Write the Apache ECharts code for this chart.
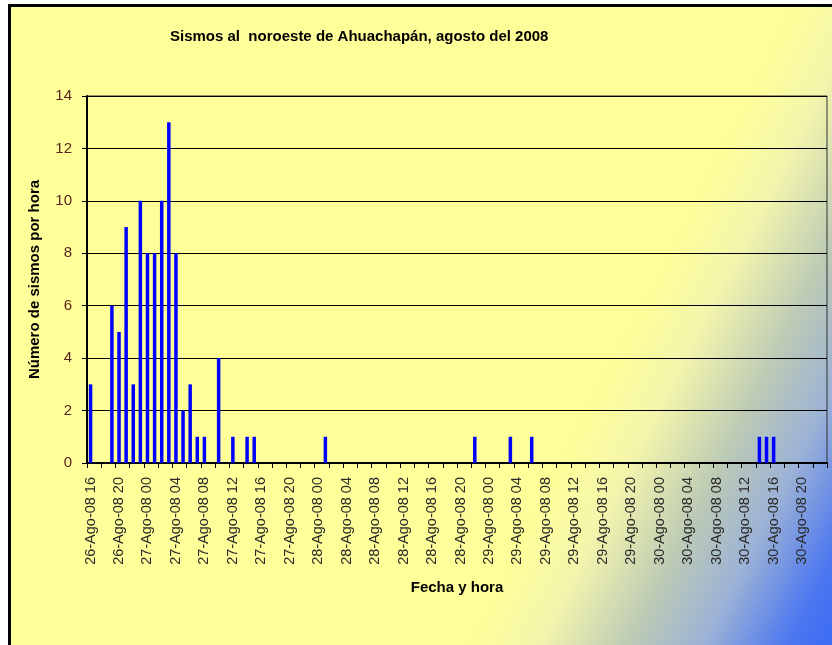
<!DOCTYPE html>
<html>
<head>
<meta charset="utf-8">
<script src="https://cdn.jsdelivr.net/npm/echarts@6/dist/echarts.min.js"></script>
<style>
  html, body { margin: 0; padding: 0; background: #fff; }
  #chart { width: 832px; height: 645px; }
</style>
</head>
<body>
<div id="chart"></div>
<script>
// días y horas del eje (una barra por hora)
const days = ['26', '27', '28', '29', '30'];
const firstHour = 16;
// sismos por hora, agrupados por día
const day26 = [3, 0, 0, 6, 5, 9, 3, 10];                                   // 16h - 23h
const day27 = [8, 8, 10, 13, 8, 2, 3, 1, 1, 0, 4, 0, 1, 0, 1, 1, 0, 0, 0, 0, 0, 0, 0, 0];
const day28 = [0, 1, 0, 0, 0, 0, 0, 0, 0, 0, 0, 0, 0, 0, 0, 0, 0, 0, 0, 0, 0, 0, 1, 0];
const day29 = [0, 0, 0, 1, 0, 0, 1, 0, 0, 0, 0, 0, 0, 0, 0, 0, 0, 0, 0, 0, 0, 0, 0, 0];
const day30 = [0, 0, 0, 0, 0, 0, 0, 0, 0, 0, 0, 0, 0, 0, 1, 1, 1, 0, 0, 0, 0, 0, 0, 0];

const counts = [].concat(day26, day27, day28, day29, day30);
const categories = [];
days.forEach(function (d, i) {
  for (let h = (i === 0 ? firstHour : 0); h < 24; h++) {
    categories.push(d + '-Ago-08 ' + (h < 10 ? '0' + h : h));
  }
});

const chart = echarts.init(document.getElementById('chart'));
const font = '"Liberation Sans", Arial, sans-serif';

const option = {
  backgroundColor: '#ffffff',
  animation: false,
  graphic: [
    {
      type: 'rect',
      z: -10,
      shape: { x: 9.5, y: 5.5, width: 860, height: 680 },
      style: {
        stroke: '#000',
        lineWidth: 3,
        // degradado diagonal amarillo -> azul hacia la esquina inferior derecha
        fill: new echarts.graphic.LinearGradient(630, 322, 920, 470, [
          { offset: 0, color: '#ffff99' },
          { offset: 0.2, color: '#f3f5ac' },
          { offset: 0.45, color: '#bccab5' },
          { offset: 0.65, color: '#9cb2d6' },
          { offset: 0.88, color: '#4c77f0' },
          { offset: 1, color: '#3d6cf5' }
        ], true)
      }
    }
  ],
  title: {
    text: 'Sismos al  noroeste de Ahuachapán, agosto del 2008',
    left: 165,
    top: 24,
    textStyle: { fontFamily: font, fontSize: 15, fontWeight: 'bold', color: '#000' }
  },
  grid: {
    left: 87, top: 96, width: 740, height: 367,
    show: true, borderColor: '#333', borderWidth: 1, backgroundColor: 'transparent'
  },
  xAxis: {
    type: 'category',
    data: categories,
    boundaryGap: true,
    name: 'Fecha y hora',
    nameLocation: 'middle',
    nameGap: 117,
    nameTextStyle: { fontFamily: font, fontSize: 15, fontWeight: 'bold', color: '#000' },
    axisLine: { lineStyle: { color: '#000', width: 2 } },
    axisTick: { show: true, interval: 1, length: 5, lineStyle: { color: '#000' } },
    axisLabel: {
      interval: 3, rotate: 90, margin: 14,
      fontFamily: font, fontSize: 14.5, color: '#2a2a2a'
    },
    splitLine: { show: false }
  },
  yAxis: {
    type: 'value',
    min: 0,
    max: 14,
    interval: 2,
    name: 'Número de sismos por hora',
    nameLocation: 'middle',
    nameGap: 45,
    nameTextStyle: { fontFamily: font, fontSize: 15, fontWeight: 'bold', color: '#000' },
    axisLine: { show: true, lineStyle: { color: '#000', width: 2 } },
    axisTick: { show: true, length: 5, lineStyle: { color: '#000' } },
    axisLabel: { margin: 15, fontFamily: font, fontSize: 15, color: '#5a2420' },
    splitLine: { show: true, lineStyle: { color: '#000', width: 1 } }
  },
  series: [
    {
      type: 'bar',
      data: counts,
      barWidth: 3.5,
      itemStyle: { color: '#0000ff' }
    }
  ]
};

chart.setOption(option);
</script>
</body>
</html>
